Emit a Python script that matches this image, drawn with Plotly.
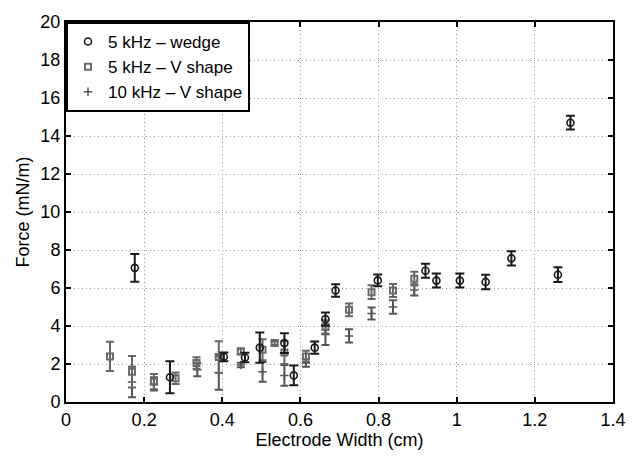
import plotly.graph_objects as go

# 5 kHz - wedge (circles)
wedge_x = [0.176, 0.266, 0.404, 0.458, 0.496, 0.559, 0.583, 0.6365, 0.664, 0.690,
           0.798, 0.920, 0.948, 1.008, 1.074, 1.140, 1.259, 1.291]
wedge_y = [7.06, 1.30, 2.38, 2.34, 2.86, 3.10, 1.40, 2.86, 4.36, 5.87,
           6.40, 6.91, 6.39, 6.39, 6.32, 7.56, 6.70, 14.70]
wedge_err = [0.73, 0.84, 0.23, 0.25, 0.80, 0.52, 0.52, 0.32, 0.35, 0.33,
             0.31, 0.37, 0.37, 0.37, 0.38, 0.38, 0.39, 0.36]

# 5 kHz - V shape (squares)
v5_x = [0.1126, 0.169, 0.225, 0.2805, 0.334, 0.391, 0.4475, 0.503, 0.534, 0.559,
        0.614, 0.664, 0.7245, 0.782, 0.837, 0.8915]
v5_y = [2.40, 1.59, 1.07, 1.25, 2.05, 2.37, 2.66, 2.75, 3.10, 2.60,
        2.40, 3.95, 4.85, 5.78, 5.87, 6.49]
v5_err = [0.77, 0.83, 0.40, 0.30, 0.30, 0.83, 0.15, 0.55, 0.10, 0.60,
          0.30, 0.35, 0.34, 0.36, 0.34, 0.36]

# 10 kHz - V shape (plus)
v10_x = [0.169, 0.225, 0.336, 0.391, 0.4475, 0.503, 0.559, 0.614, 0.664, 0.7245,
         0.782, 0.837, 0.8915]
v10_y = [1.05, 0.95, 1.70, 1.54, 1.95, 1.59, 1.40, 2.05, 3.55, 3.48,
         4.66, 5.00, 5.90]
v10_err = [0.80, 0.35, 0.35, 0.90, 0.12, 0.52, 0.55, 0.20, 0.55, 0.35,
           0.32, 0.36, 0.30]

x_ticks = [0, 0.2, 0.4, 0.6, 0.8, 1.0, 1.2, 1.4]
x_ticklabels = ["0", "0.2", "0.4", "0.6", "0.8", "1", "1.2", "1.4"]

FONT = "Liberation Sans, Arial, Helvetica, sans-serif"

fig = go.Figure()

fig.add_trace(go.Scatter(
    x=v10_x, y=v10_y, mode="markers", name="10 kHz – V shape",
    marker=dict(symbol="cross-thin", size=6, color="#555555",
                line=dict(color="#555555", width=1.5)),
    error_y=dict(type="data", array=v10_err, color="#555555", thickness=2, width=4),
))
fig.add_trace(go.Scatter(
    x=v5_x, y=v5_y, mode="markers", name="5 kHz – V shape",
    marker=dict(symbol="square-open", size=6, color="#6a6a6a",
                line=dict(color="#6a6a6a", width=2)),
    error_y=dict(type="data", array=v5_err, color="#666666", thickness=2, width=4),
))
fig.add_trace(go.Scatter(
    x=wedge_x, y=wedge_y, mode="markers", name="5 kHz – wedge",
    marker=dict(symbol="circle-open", size=7, color="#1a1a1a",
                line=dict(color="#1a1a1a", width=1.6)),
    error_y=dict(type="data", array=wedge_err, color="#1a1a1a", thickness=2, width=4.5),
))

axis_common = dict(
    showline=True, linecolor="black", linewidth=2, mirror="ticks",
    ticks="inside", ticklen=5, tickwidth=2, tickcolor="black",
    showgrid=True, gridcolor="#999999", griddash="1px,3px", gridwidth=1,
    zeroline=False, tickfont=dict(family=FONT, size=18, color="black"),
)

fig.update_xaxes(range=[0, 1.4], tickvals=x_ticks, ticktext=x_ticklabels,
                 title=dict(text="Electrode Width (cm)", font=dict(family=FONT, size=18, color="black"),
                            standoff=2),
                 **axis_common)
fig.update_yaxes(range=[0, 20], dtick=2,
                 title=dict(text="Force (mN/m)", font=dict(family=FONT, size=18, color="black"),
                            standoff=6),
                 **axis_common)

fig.update_layout(
    width=638, height=456,
    margin=dict(l=66, r=16, t=17, b=54),
    plot_bgcolor="white", paper_bgcolor="white",
    font=dict(family=FONT, size=18, color="black"),
    showlegend=True,
    legend=dict(x=0, y=1, xanchor="left", yanchor="top", traceorder="reversed",
                bgcolor="white", bordercolor="black", borderwidth=2,
                font=dict(family=FONT, size=17, color="black"),
                itemwidth=30, tracegroupgap=0),
)

fig.write_html("out.html")
